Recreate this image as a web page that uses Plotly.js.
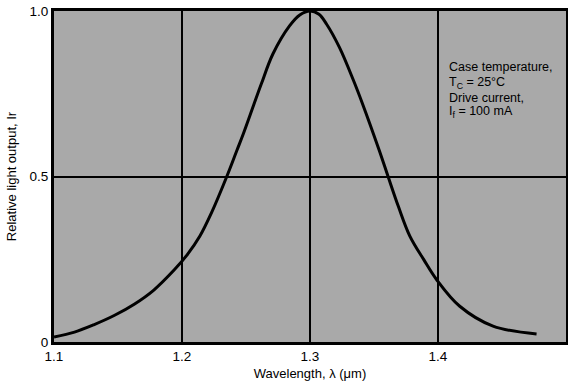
<!DOCTYPE html>
<html>
<head>
<meta charset="utf-8">
<script src="https://cdn.plot.ly/plotly-3.0.1.min.js"></script>
<style>html,body{margin:0;padding:0;background:#fff;}#chart{width:568px;height:383px;}</style>
</head>
<body>
<div id="chart"></div>
<script>
const wavelength = [1.100,1.116,1.131,1.147,1.163,1.178,1.194,1.204,1.214,1.223,1.235,1.243,1.248,1.256,1.262,1.271,1.284,1.292,1.300,1.307,1.313,1.323,1.334,1.341,1.354,1.361,1.369,1.378,1.389,1.399,1.417,1.443,1.477];
const relOutput  = [0.015,0.030,0.052,0.080,0.115,0.157,0.218,0.263,0.320,0.390,0.500,0.580,0.630,0.716,0.780,0.870,0.955,0.988,1.000,0.990,0.960,0.890,0.790,0.720,0.580,0.500,0.410,0.320,0.248,0.188,0.108,0.048,0.024];
const xTickVals = [1.1,1.2,1.3,1.4,1.5];
const xTickText = ["1.1","1.2","1.3","1.4","1.5"];
const yTickVals = [0,0.5,1.0];
const yTickText = ["0","0.5","1.0"];
const noteLines = ["Case temperature,", "T<sub>C</sub> = 25°C", "Drive current,", "I<sub>f</sub> = 100 mA"];
const noteY = [0.831, 0.783, 0.738, 0.695];

const trace = {
  x: wavelength, y: relOutput, type: 'scatter', mode: 'lines',
  line: {color: '#000', width: 3, shape: 'spline', smoothing: 1},
  hoverinfo: 'skip'
};
const annotations = noteLines.map((t, i) => ({
  xref: 'paper', yref: 'paper', x: 0.768, y: noteY[i],
  xanchor: 'left', yanchor: 'middle', align: 'left', showarrow: false,
  text: t, font: {size: 12.5, color: '#000'}
}));
const layout = {
  width: 568, height: 383,
  margin: {l: 54, r: 2, t: 11, b: 41},
  paper_bgcolor: '#fff', plot_bgcolor: '#a9a9a9',
  font: {family: '"Liberation Sans", Arial, sans-serif', color: '#000', size: 12},
  showlegend: false,
  xaxis: {
    range: [1.1, 1.5], tickvals: xTickVals, ticktext: xTickText,
    showgrid: true, gridcolor: '#000', gridwidth: 2,
    showline: true, linecolor: '#000', linewidth: 3, mirror: true,
    zeroline: false, ticks: '', tickfont: {size: 13.5},
    title: {text: 'Wavelength, λ (μm)', font: {size: 13}, standoff: 6}
  },
  yaxis: {
    range: [0, 1.0], tickvals: yTickVals, ticktext: yTickText,
    showgrid: true, gridcolor: '#000', gridwidth: 2,
    showline: true, linecolor: '#000', linewidth: 3, mirror: true,
    zeroline: false, ticks: '', tickfont: {size: 13.5},
    title: {text: 'Relative light output, Ir', font: {size: 13}, standoff: 10}
  },
  annotations: annotations
};
Plotly.newPlot('chart', [trace], layout, {displayModeBar: false, staticPlot: true});
</script>
</body>
</html>
